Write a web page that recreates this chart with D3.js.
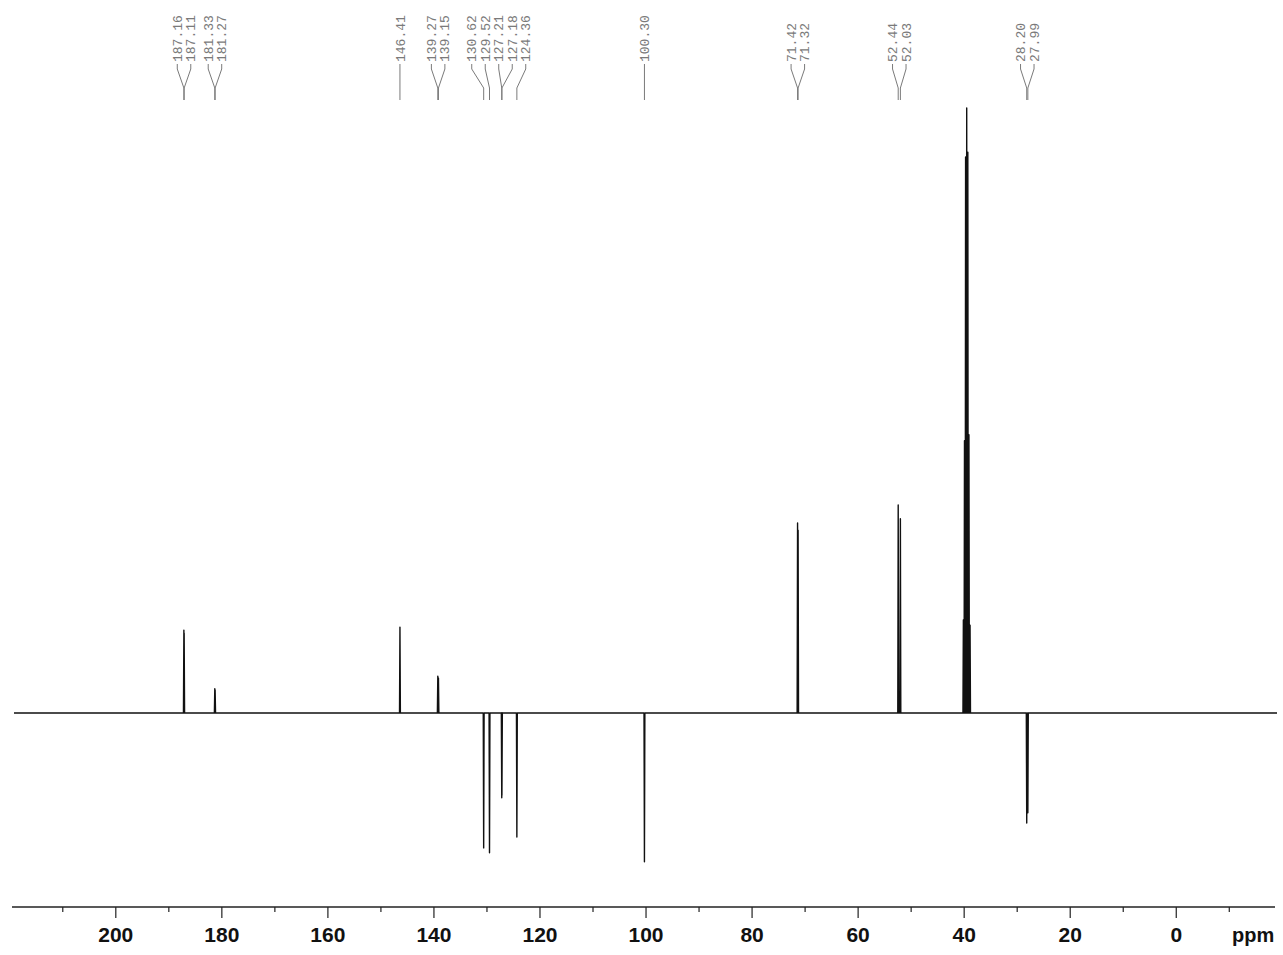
<!DOCTYPE html>
<html lang="en">
<head>
  <meta charset="UTF-8">
  <title>13C DEPT spectrum</title>
  <script src="https://d3js.org/d3.v7.min.js"></script>
  <style>
    body {
      margin: 0;
      background: #fff;
    }
    svg {
      display: block;
    }
    .peak-label {
      font-family: 'Liberation Mono', 'DejaVu Sans Mono', monospace;
      font-size: 13px;
      fill: #7a7a7a;
    }
    .tick-label {
      font-family: 'Liberation Sans', Arial, sans-serif;
      font-size: 21px;
      font-weight: bold;
      fill: #111;
    }
  </style>
</head>
<body>
<script>
  // labelled peaks (ppm) and their heights, negative = pointing down
  var peakPpm = [187.16, 187.11, 181.33, 181.27, 146.41, 139.27, 139.15, 130.62, 129.52,
                 127.21, 127.18, 124.36, 100.30, 71.42, 71.32, 52.44, 52.03, 28.20, 27.99];
  var peakHeight = [13.7, 13.2, 4.0, 3.8, 14.2, 6.1, 5.8, -22.3, -23.1,
                    -14.0, -13.6, -20.5, -24.6, 31.4, 30.2, 34.4, 32.1, -18.2, -16.5];
  var peakLabels = ['187.16', '187.11', '181.33', '181.27', '146.41', '139.27', '139.15', '130.62', '129.52',
                    '127.21', '127.18', '124.36', '100.30', '71.42', '71.32', '52.44', '52.03', '28.20', '27.99'];

  // DMSO-d6 septet, not labelled
  var solventPpm = [40.15, 39.94, 39.73, 39.52, 39.31, 39.10, 38.89];
  var solventHeight = [15.4, 45.0, 91.9, 100, 92.7, 46.0, 14.5];

  var majorTicks = [200, 180, 160, 140, 120, 100, 80, 60, 40, 20, 0];
  var minorTicks = [210, 190, 170, 150, 130, 110, 90, 70, 50, 30, 10, -10];

  var width = 1283, height = 955;
  var svg = d3.select('body').append('svg')
    .attr('width', width)
    .attr('height', height);

  var x = d3.scaleLinear().domain([219.2, -19]).range([14, 1277]);
  var y = d3.scaleLinear().domain([0, 100]).range([713, 108]);

  // build the trace: flat baseline with a narrow spike for every line
  var lines = peakPpm.map(function(p, i) { return {ppm: p, h: peakHeight[i]}; })
    .concat(solventPpm.map(function(p, i) { return {ppm: p, h: solventHeight[i]}; }))
    .sort(function(a, b) { return b.ppm - a.ppm; });

  var trace = [[219.2, 0]];
  lines.forEach(function(d) {
    trace.push([d.ppm + 0.08, 0]);
    trace.push([d.ppm, d.h]);
    trace.push([d.ppm - 0.08, 0]);
  });
  trace.push([-19, 0]);

  var line = d3.line()
    .x(function(d) { return x(d[0]); })
    .y(function(d) { return y(d[1]); });

  svg.append('path')
    .datum(trace)
    .attr('d', line)
    .attr('fill', 'none')
    .attr('stroke', '#111')
    .attr('stroke-width', 1.4)
    .attr('stroke-linejoin', 'round');

  // spread the labels so they don't overlap
  var gap = 13.5;
  var lx = peakPpm.map(function(p) { return x(p); });
  for (var k = 0; k < 300; k++) {
    for (var i = 0; i < lx.length - 1; i++) {
      var diff = lx[i + 1] - lx[i];
      if (diff < gap) {
        var o = (gap - diff) / 2;
        lx[i] -= o;
        lx[i + 1] += o;
      }
    }
  }

  var labels = svg.append('g');
  peakPpm.forEach(function(p, i) {
    var px = x(p);
    labels.append('path')
      .attr('d', d3.line()([[lx[i], 64], [lx[i], 69], [px, 88], [px, 100]]))
      .attr('fill', 'none')
      .attr('stroke', '#7a7a7a')
      .attr('stroke-width', 1);
    labels.append('text')
      .attr('class', 'peak-label')
      .attr('transform', 'translate(' + lx[i] + ',62) rotate(-90)')
      .attr('dy', '0.35em')
      .text(peakLabels[i]);
  });

  // ppm axis
  var axisY = 907;
  var axis = svg.append('g');
  axis.append('line')
    .attr('x1', 12).attr('x2', 1275)
    .attr('y1', axisY).attr('y2', axisY)
    .attr('stroke', '#222').attr('stroke-width', 1.3);

  axis.selectAll('.major').data(majorTicks).join('line')
    .attr('class', 'major')
    .attr('x1', function(d) { return x(d); }).attr('x2', function(d) { return x(d); })
    .attr('y1', axisY).attr('y2', axisY + 11)
    .attr('stroke', '#222').attr('stroke-width', 1.2);

  axis.selectAll('.minor').data(minorTicks).join('line')
    .attr('class', 'minor')
    .attr('x1', function(d) { return x(d); }).attr('x2', function(d) { return x(d); })
    .attr('y1', axisY).attr('y2', axisY + 5)
    .attr('stroke', '#222').attr('stroke-width', 1.2);

  axis.selectAll('.tick-label').data(majorTicks).join('text')
    .attr('class', 'tick-label')
    .attr('x', function(d) { return x(d); })
    .attr('y', 942)
    .attr('text-anchor', 'middle')
    .text(function(d) { return d; });

  axis.append('text')
    .attr('class', 'tick-label')
    .attr('x', 1232)
    .attr('y', 942)
    .style('font-size', '20px')
    .text('ppm');
</script>
</body>
</html>
